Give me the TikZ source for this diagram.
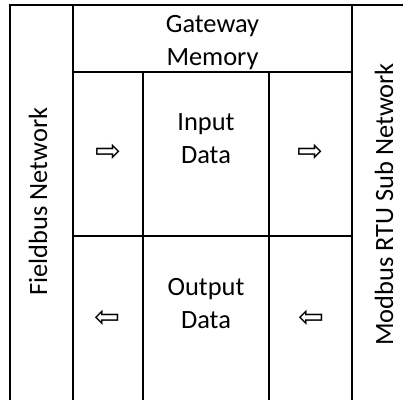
\documentclass[tikz,border=0pt]{standalone}
\usepackage{fontspec}
\setmainfont{Carlito}
\newfontfamily\arrowfont{DejaVu Sans}

\tikzstyle{txt} = [inner sep=0pt, align=center, anchor=base, font=\fontsize{26.4}{32.5}\selectfont]
\tikzstyle{side} = [txt, rotate=90]
\tikzstyle{arw} = [inner sep=0pt, anchor=center, font=\arrowfont\fontsize{31}{34}\selectfont]
\tikzstyle{gridline} = [line width=2pt, draw=black]

\begin{document}
\begin{tikzpicture}[x=1pt,y=-1pt]
        \useasboundingbox (0,0) rectangle (403,399);
        \clip (0,0) rectangle (403,399);
        % table lines
        \draw[gridline] (10,420) -- (10,5) -- (430,5);
        \draw[gridline] (73,5) -- (73,420);
        \draw[gridline] (352,5) -- (352,420);
        \draw[gridline] (143,72) -- (143,420);
        \draw[gridline] (269,72) -- (269,420);
        \draw[gridline] (73,72) -- (352,72);
        \draw[gridline] (73,236) -- (352,236);
        % cells (base = last line)
        \node[txt] (mem) at (212.5,65) {Gateway\\Memory};
        \node[txt] (in) at (206,163) {Input\\Data};
        \node[txt] (out) at (206,328) {Output\\Data};
        \node[arw] (inl) at (108,153) {⇨};
        \node[arw] (inr) at (310.5,153) {⇨};
        \node[arw] (outl) at (107.5,319) {⇦};
        \node[arw] (outr) at (311,319) {⇦};
        % networks
        \node[side] (fb) at (47,201.5) {Fieldbus Network};
        \node[side] (mb) at (393,204.5) {Modbus RTU Sub Network};
\end{tikzpicture}
\end{document}
